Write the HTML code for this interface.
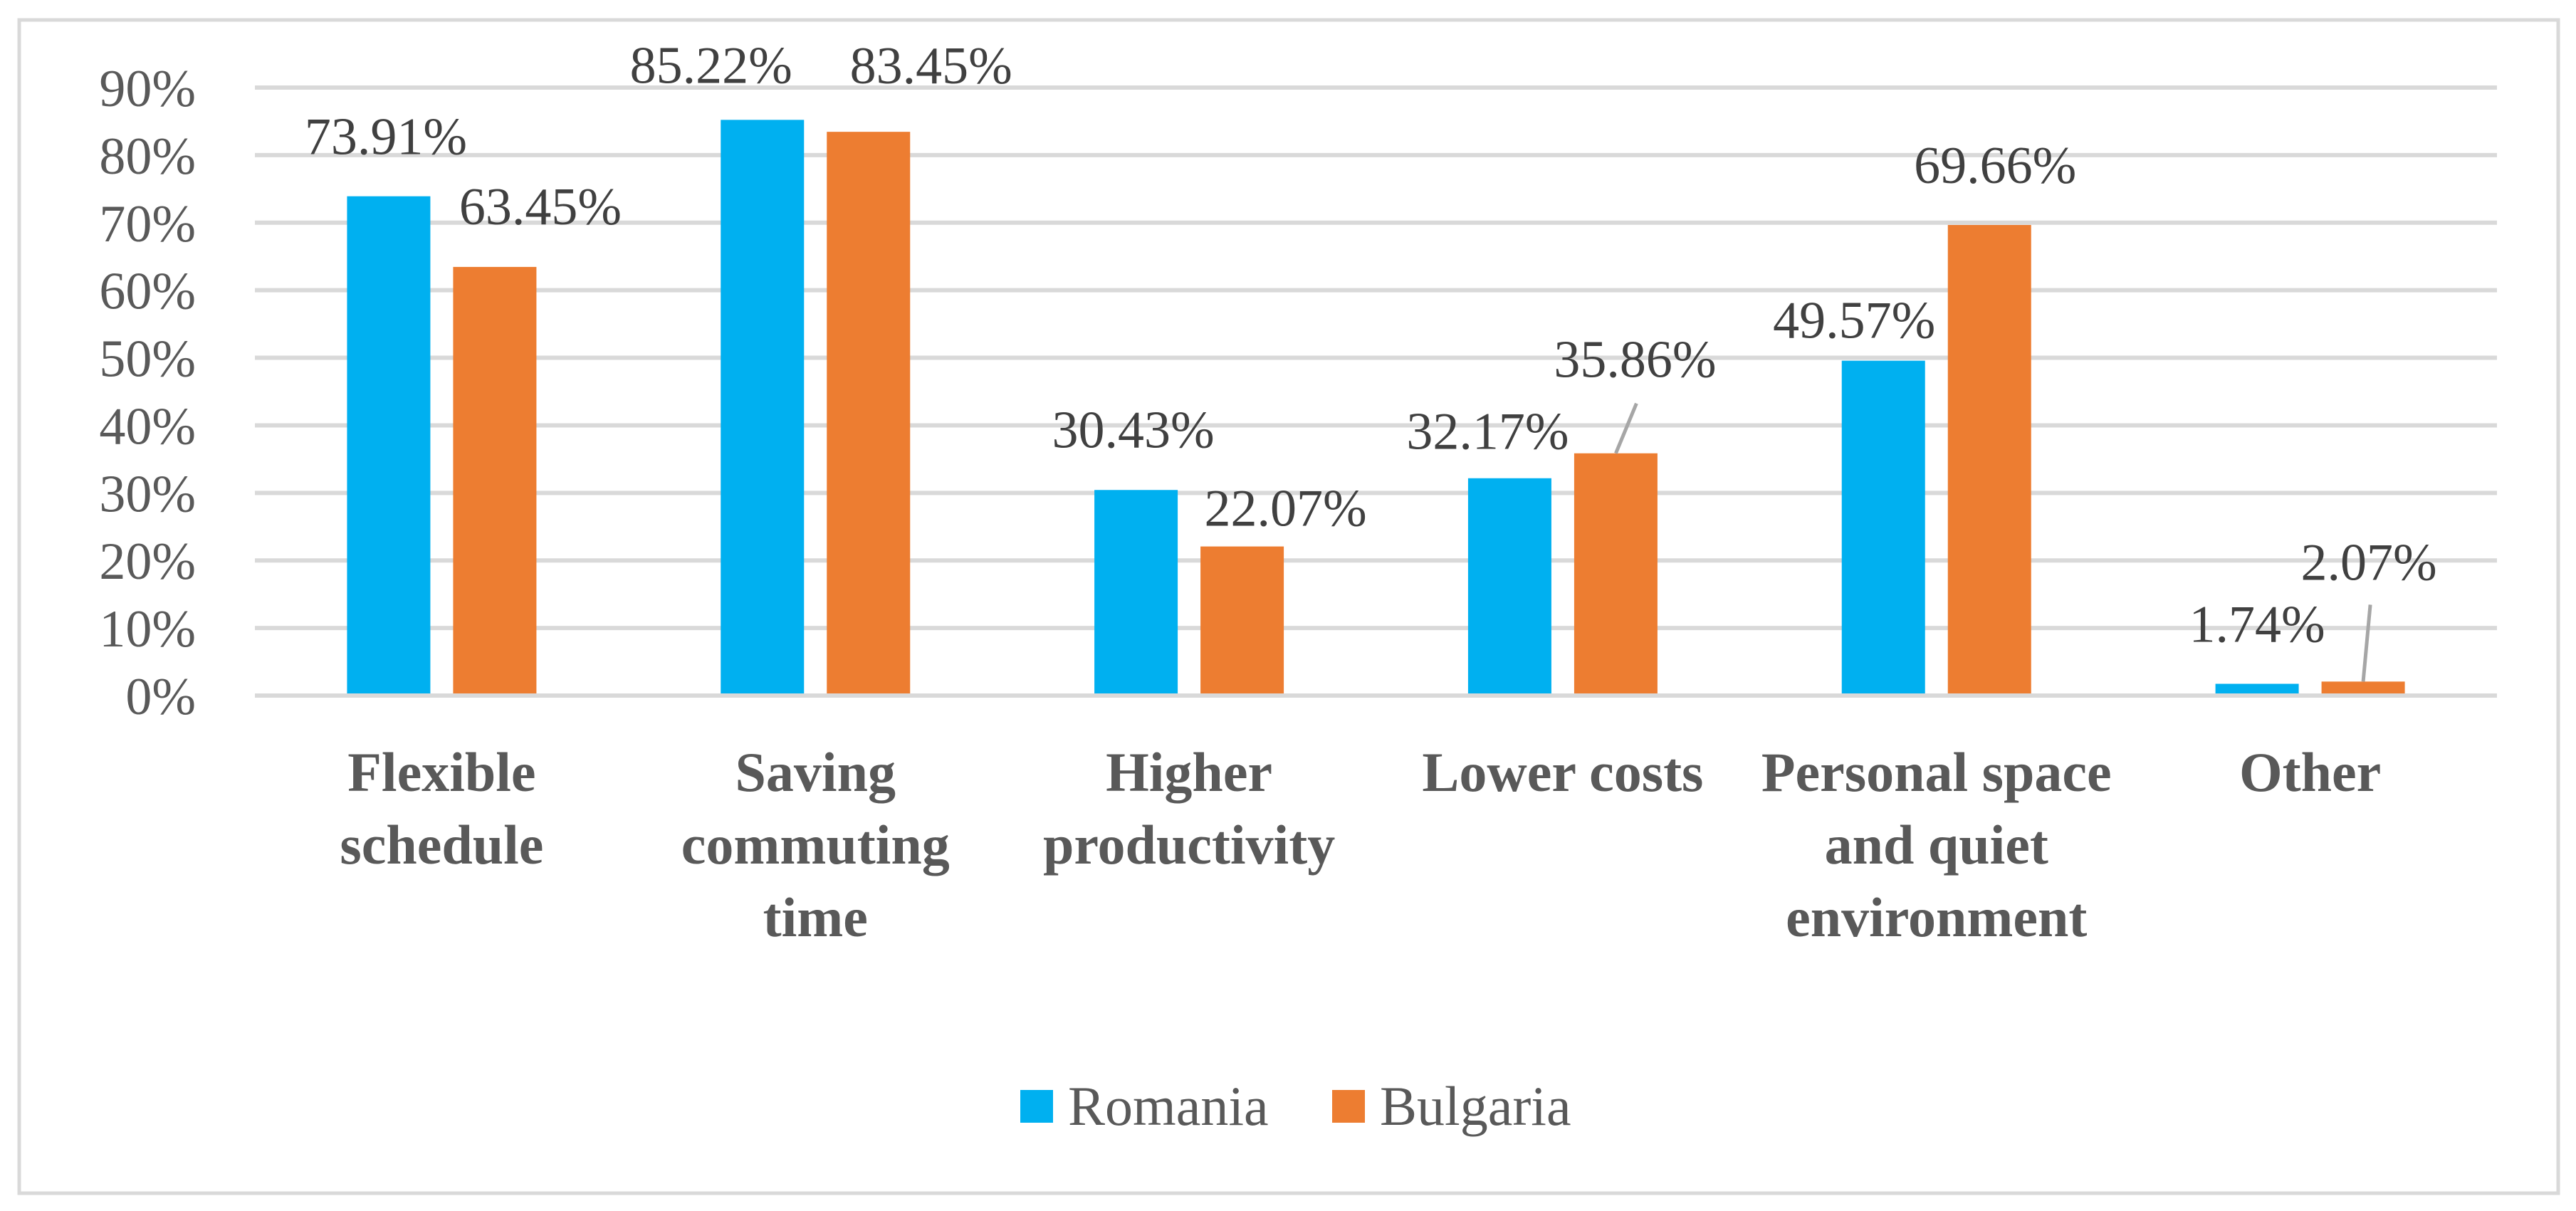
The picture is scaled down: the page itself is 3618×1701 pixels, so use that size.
<!DOCTYPE html>
<html><head><meta charset="utf-8"><style>
html,body{margin:0;padding:0;background:#fff;}
svg{display:block;}
text{font-family:"Palatino Linotype","Book Antiqua","Liberation Serif",serif;}
</style></head>
<body>
<svg id="chart" width="3618" height="1701" viewBox="0 0 3618 1701" xmlns="http://www.w3.org/2000/svg">
<rect x="27" y="28" width="3566" height="1648" fill="#fff" stroke="#d9d9d9" stroke-width="5"/>
<g id="grid"></g><g id="bars"></g><g id="labels"></g><g id="xlabels"></g>
<g>
<rect x="1433" y="1531" width="46" height="46" fill="#00b0f0"/>
<text x="1500" y="1580" font-size="78" fill="#595959">Romania</text>
<rect x="1871" y="1531" width="46" height="46" fill="#ed7d31"/>
<text x="1938" y="1580" font-size="78" fill="#595959">Bulgaria</text>
</g>
</svg>
<script>
const categories = [["Flexible","schedule"],["Saving","commuting","time"],["Higher","productivity"],["Lower costs"],["Personal space","and quiet","environment"],["Other"]];
const romania = [73.91, 85.22, 30.43, 32.17, 49.57, 1.74];
const bulgaria = [63.45, 83.45, 22.07, 35.86, 69.66, 2.07];
const yTicks = [0,10,20,30,40,50,60,70,80,90];
const romaniaLabels = ["73.91%","85.22%","30.43%","32.17%","49.57%","1.74%"];
const bulgariaLabels = ["63.45%","83.45%","22.07%","35.86%","69.66%","2.07%"];

const NS="http://www.w3.org/2000/svg";
const plotL=358, plotR=3507, y0=977, y90=123;
const bw=117, gap=32;
const catW=(plotR-plotL)/categories.length;
function y(v){return y0-(v/90)*(y0-y90);}
function cx(i){return plotL+catW*(i+0.5);}
function mk(tag,attrs,parent){const e=document.createElementNS(NS,tag);for(const k in attrs)e.setAttribute(k,attrs[k]);parent.appendChild(e);return e;}
const grid=document.getElementById('grid'),bars=document.getElementById('bars'),labels=document.getElementById('labels'),xl=document.getElementById('xlabels');
yTicks.forEach(t=>{
  const l=mk('line',{x1:plotL,x2:plotR,y1:y(t),y2:y(t),stroke:'#d9d9d9','stroke-width':6},grid);
  
  
  const tx=mk('text',{x:275,y:y(t)+26,'font-size':74,fill:'#595959','text-anchor':'end'},grid);
  tx.textContent=t+'%';
  
  
});
// label offsets relative to bar centre/top
const rOff=[[-4,-59],[-72,-52],[-4,-60],[-31,-41],[-41,-32],[0,-59]];
const bOff=[[64,-60],[88,-68],[61,-29],[27,-107],[8,-59],[8,-143]];
const leaders={3:[29,-70],5:[10,-108]};
categories.forEach((c,i)=>{
  const bx=cx(i)-bw-gap/2, ox=cx(i)+gap/2;
  const r=mk('rect',{x:bx,y:y(romania[i]),width:bw,height:y0-3-y(romania[i]),fill:'#00b0f0'},bars);
  
  
  const b=mk('rect',{x:ox,y:y(bulgaria[i]),width:bw,height:y0-3-y(bulgaria[i]),fill:'#ed7d31'},bars);
  
  
  const lr=mk('text',{x:bx+bw/2+rOff[i][0],y:y(romania[i])+rOff[i][1],'font-size':74,fill:'#404040','text-anchor':'middle'},labels);
  lr.textContent=romaniaLabels[i];
  
  
  const lb=mk('text',{x:ox+bw/2+bOff[i][0],y:y(bulgaria[i])+bOff[i][1],'font-size':74,fill:'#404040','text-anchor':'middle'},labels);
  lb.textContent=bulgariaLabels[i];
  
  
  if(leaders[i]){
    const s=leaders[i];
    const ld=mk('line',{x1:ox+bw/2+s[0],y1:y(bulgaria[i])+s[1],x2:ox+bw/2,y2:y(bulgaria[i]),stroke:'#a6a6a6','stroke-width':5},labels);
    
    
  }
  c.forEach((line,j)=>{
    const t=mk('text',{x:cx(i),y:1111+j*102,'font-size':78,'font-weight':'bold',fill:'#595959','text-anchor':'middle'},xl);
    t.textContent=line;
    
    
  });
});
</script>
</body></html>
